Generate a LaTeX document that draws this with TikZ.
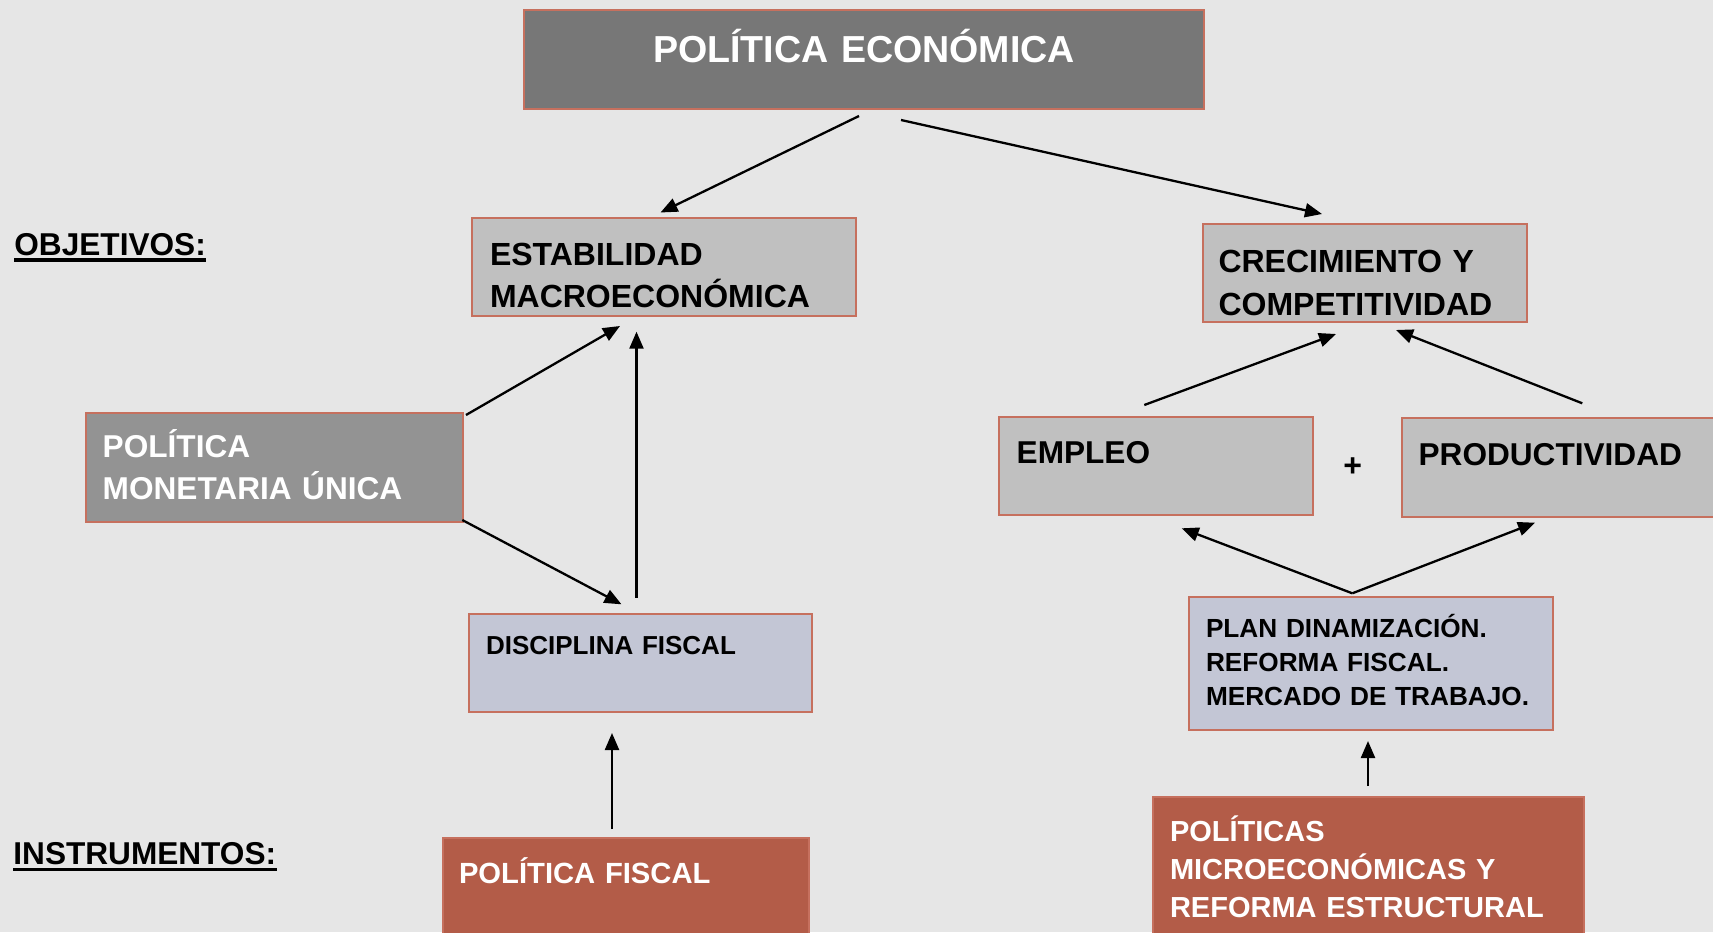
\documentclass[tikz,border=0pt]{standalone}
\usepackage{fontspec}
\setmainfont{Liberation Sans}
\usetikzlibrary{arrows.meta}
\definecolor{PolBack}{RGB}{230,230,230}
\definecolor{PolDark}{RGB}{119,119,119}
\definecolor{PolMid}{RGB}{147,147,147}
\definecolor{PolLight}{RGB}{192,192,192}
\definecolor{PolBlue}{RGB}{195,198,213}
\definecolor{PolRust}{RGB}{179,92,72}
\definecolor{PolLine}{RGB}{198,112,94}

\begin{document}
\begin{tikzpicture}[x=0.5pt,y=-0.5pt,
  box/.style={draw=PolLine,line width=0.6pt,anchor=north west,inner ysep=0pt,outer sep=0pt,align=left,text=black},
  dims/.style n args={4}{inner xsep=#1,text width=#2,text height=#3,text depth=#4},
  fsize/.style 2 args={font=\fontsize{#1}{#2}\selectfont\bfseries},
  lbl/.style={inner sep=0pt,anchor=base west,font=\fontsize{15.8}{19}\selectfont\bfseries},
  uline/.style={line width=1.7pt},
  arr/.style={-{Triangle[length=8.5pt,width=7pt]},line width=1.15pt,black}]
  \useasboundingbox (0,0) rectangle (1713,932);
  \fill[PolBack] (0,0) rectangle (1713,932);
  % objectives
  \node[box,fill=PolDark,text=white,align=center,dims={0pt}{340pt}{26.35pt}{23.15pt},fsize={18.8}{22}] (title) at (524,10) {POLÍTICA ECONÓMICA};
  \node[box,fill=PolLight,dims={9pt}{174pt}{23.5pt}{25.5pt},fsize={16}{21}] (estab) at (472,218) {ESTABILIDAD\\MACROECONÓMICA};
  \node[box,fill=PolLight,dims={7.75pt}{146.5pt}{24.35pt}{24.65pt},fsize={16}{21.3}] (crec) at (1203,224) {CRECIMIENTO Y\\COMPETITIVIDAD};
  \node[box,fill=PolMid,text=white,dims={8.35pt}{171.8pt}{22.4pt}{32.1pt},fsize={15.8}{20.8}] (mon) at (86,413) {POLÍTICA\\MONETARIA ÚNICA};
  \node[box,fill=PolLight,dims={8.85pt}{139.3pt}{23.15pt}{25.85pt},fsize={15.8}{19}] (empleo) at (999,417) {EMPLEO};
  \node[box,fill=PolLight,dims={8.3pt}{143.4pt}{23.5pt}{26pt},fsize={15.8}{19}] (prod) at (1402,418) {PRODUCTIVIDAD};
  \node[inner sep=0pt,fsize={16}{19}] (plus) at (1352.7,467) {+};
  % instruments
  \node[box,fill=PolBlue,dims={8.5pt}{154.5pt}{20.3pt}{28.7pt},fsize={13}{16}] (disc) at (469,614) {DISCIPLINA FISCAL};
  \node[box,fill=PolBlue,dims={8.5pt}{165pt}{20.3pt}{46.2pt},fsize={13.1}{16.9}] (plan) at (1189,597) {PLAN DINAMIZACIÓN.\\REFORMA FISCAL.\\MERCADO DE TRABAJO.};
  \node[box,fill=PolRust,text=white,dims={8pt}{167pt}{22.65pt}{25.35pt},fsize={14.6}{18}] (pfis) at (443,838) {POLÍTICA FISCAL};
  \node[box,fill=PolRust,text=white,dims={8.5pt}{198.5pt}{22.35pt}{46.15pt},fsize={14.5}{18.9}] (micro) at (1153,797) {POLÍTICAS\\MICROECONÓMICAS Y\\REFORMA ESTRUCTURAL};
  % side labels
  \node[lbl] (objet) at (14,255) {OBJETIVOS:};
  \node[lbl] (instr) at (13,864) {INSTRUMENTOS:};
  \draw[uline] ([yshift=-2.5pt]objet.base west) -- ([yshift=-2.5pt]objet.base east);
  \draw[uline] ([yshift=-2.8pt]instr.base west) -- ([yshift=-2.8pt]instr.base east);
  % arrows
  \draw[arr] ([shift={(-5,7)}]title.south) -- ([shift={(-3.5,-5.5)}]estab.north);
  \draw[arr] ([shift={(37,11)}]title.south) -- ([shift={(-43,-10)}]crec.north);
  \draw[arr] ([shift={(3,2)}]mon.north east) -- ([shift={(-44,10)}]estab.south);
  \draw[arr] ([shift={(-0.7,-2)}]mon.south east) -- ([shift={(-19,-9.7)}]disc.north);
  \draw[arr] ([shift={(-4,-16.3)}]disc.north) -- ([shift={(-27.5,15.7)}]estab.south);
  \draw[arr] ([shift={(-14,-9)}]pfis.north) -- ([shift={(-28.5,21)}]disc.south);
  \draw[arr] ([shift={(-11.7,-12)}]empleo.north) -- ([shift={(-29,12)}]crec.south);
  \draw[arr] ([shift={(20.3,-14.7)}]prod.north) -- ([shift={(31,8)}]crec.south);
  \coordinate (apex) at ([shift={(-18.7,-3.7)}]plan.north);
  \draw[arr] (apex) -- ([shift={(25.7,13.3)}]empleo.south);
  \draw[arr] (apex) -- ([shift={(-27,5.7)}]prod.south);
  \draw[arr] ([shift={(-0.5,-11)}]micro.north) -- ([shift={(-3,11)}]plan.south);
\end{tikzpicture}
\end{document}
